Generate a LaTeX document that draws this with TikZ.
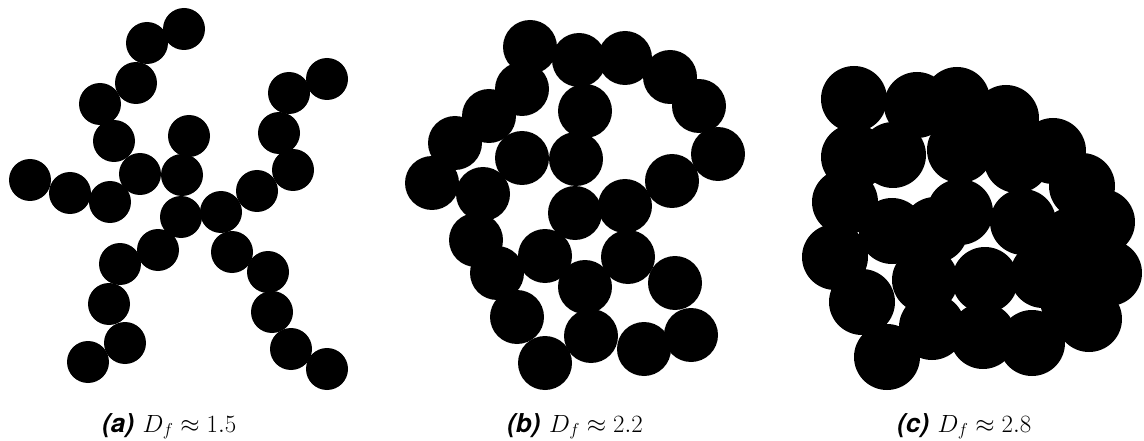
\documentclass[tikz,border=0pt]{standalone}
\usepackage{fontspec}
\newfontfamily\lblfont{TeX Gyre Heros}
\begin{document}
\begin{tikzpicture}[x=1pt,y=-1pt,
  pa/.style={fill=black,draw=none},
  lbl/.style={anchor=base west,inner sep=0pt,font=\fontsize{26}{30}\selectfont}]
\useasboundingbox (0,0) rectangle (1144,441);
% panel (a)
\foreach \x/\y in {184/29,147/43,136/83,100/104,114/141,140/174,110/202,70/193,30/180,
  189/136,182/175,181/217,158/250,120/264,109/304,125/343,88/362,
  221/212,232/252,268/272,272/312,291/349,327/369,
  257/191,293/170,279/133,289/93,327/79}
  \fill[pa] (\x,\y) circle (21);
% panel (b)
\foreach \x/\y in {530/47,579/60,625/58,670/77,699/106,718/154,672/181,625/206,575/213,
  576/159,585/111,522/89,489/116,455/143,432/183,483/194,522/158,476/240,497/273,
  517/317,545/363,591/336,585/287,545/256,628/257,675/283,691/335,644/349}
  \fill[pa] (\x,\y) circle (27);
% panel (c)
\foreach \x/\y in {854/99,917/105,957/100,1006/118,1053/151,1082/186,1102/222,1109/273,
  1089/319,1032/343,983/336,932/327,887/357,862/302,835/257,845/202,854/157,
  893/155,960/150,1017/160,892/231,960/212,1023/222,1073/240,925/280,985/280,1043/275,1073/300,
  935/230}
  \fill[pa] (\x,\y) circle (33);
% labels
\node[lbl] (la) at (102,432) {{\lblfont\bfseries\itshape (a)}\,\,$D_f \approx 1.5$};
\node[lbl] (lb) at (507,432) {{\lblfont\bfseries\itshape (b)}\,\,$D_f \approx 2.2$};
\node[lbl] (lc) at (897,432) {{\lblfont\bfseries\itshape (c)}\,\,$D_f \approx 2.8$};
\end{tikzpicture}
\end{document}
